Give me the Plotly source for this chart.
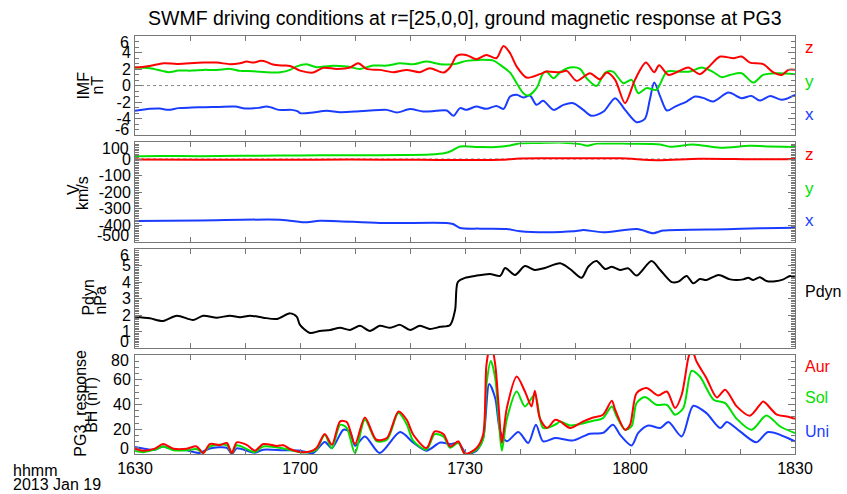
import plotly.graph_objects as go
from plotly.subplots import make_subplots

# ---------------- data (time in minutes after 16:30 UT, 2013 Jan 19) ----------------
x_tick_vals = [0, 10, 20, 30, 40, 50, 60, 70, 80, 90, 100, 110, 120]
x_tick_text = ["1630", "", "", "1700", "", "", "1730", "", "", "1800", "", "", "1830"]

# IMF (nT)
imf_z_t = [0, 2.7, 5.2, 7.6, 10, 12.4, 14.9, 17.3, 19.1, 20.3, 21.5, 22.9, 23.9, 25.1, 26.9, 28.2, 30, 32.4,
           34.2, 36.7, 39.1, 40.6, 42.1, 44.5, 47, 49.4, 51.8, 53.6, 56.1, 57.3, 58.5, 60.2, 62, 63.9, 65.7, 67,
           68.2, 69.4, 71.2, 73.6, 74.8, 77.3, 78.5, 80.3, 82.7, 84.5, 85.8, 87.3, 89.1, 90.9, 92.9, 94.4, 95.3,
           97, 99.1, 100.6, 102.7, 104.2, 106.4, 108.8, 110.3, 111.8, 114.2, 116, 117.6, 118.8, 120]
imf_z = [2.18, 2.38, 2.71, 2.62, 2.71, 2.78, 2.78, 2.59, 2.71, 2.9, 2.78, 2.99, 2.87, 2.54, 2.42, 2.38, 1.81, 1.57,
         2.14, 2.02, 2.18, 2.71, 2.02, 1.9, 1.62, 1.9, 1.62, 2.1, 1.57, 2.22, 3.59, 3.71, 3.19, 3.71, 3.31, 4.8,
         3.92, 2.3, 0.97, 1.38, 1.69, 1.6, 1.78, 0.57, 1.5, 0.77, 1.57, 0.69, -2.13, 0.69, 2.78, 1.62, 2.47,
         1.29, 1.81, 2.18, 1.38, 2.18, 3.51, 3.31, 3.51, 2.78, 2.59, 1.62, 1.29, 1.9, 1.9]

imf_y_t = [0, 2.7, 4.9, 6.1, 7.9, 10.3, 12.4, 14.9, 17.3, 19.1, 21.5, 23.9, 26.4, 28.2, 29.3, 31.2, 33, 35.5,
           38.5, 40.9, 43.3, 45.8, 48.2, 50.6, 53, 55.5, 57.9, 60.3, 62.7, 65.2, 66.4, 68.2, 69.4, 70.6, 71.5,
           73, 74.2, 74.8, 76.1, 77.3, 79.1, 80.9, 82.1, 83.9, 85.5, 86.9, 88.8, 90.3, 91.5, 93, 94.8, 96.7,
           98.5, 100.9, 103, 105, 106.7, 108.2, 110.3, 112.4, 114.2, 116.7, 120]
imf_y = [2.18, 2.1, 1.78, 1.62, 1.81, 1.81, 1.9, 1.9, 2.02, 1.78, 1.74, 1.62, 1.62, 1.9, 2.3, 2.59, 2.22, 2.38,
         2.3, 2.02, 2.42, 2.42, 2.71, 2.59, 2.9, 2.59, 2.59, 2.99, 3.11, 3.02, 2.5, 1.57, 0.29, -0.92, -1.21,
         -0.31, 1.5, 1.69, 0.89, 1.62, 2.18, 2.02, 0.89, -0.04, 1.57, 1.69, 0.29, 0.69, -0.92, -0.31, -0.52, 1.69,
         1.69, 1.69, 2.18, 1.69, 1.02, 1.29, 1.5, 0.36, 1.29, 1.5, 1.38]

imf_x_t = [0, 2.7, 4.5, 6.1, 7.9, 10.3, 12.7, 15.2, 18.2, 20, 22.4, 23.9, 24.8, 26.1, 28.5, 29.7, 30, 32.4,
           34.8, 37.3, 40.3, 42.7, 45.8, 47.6, 50, 52.4, 54.8, 56.7, 57.9, 59.1, 60.3, 62, 63.9, 65.7, 67, 68.2,
           69.4, 70.6, 71.8, 73, 74.2, 76.1, 77.9, 79.7, 81.5, 83, 85.2, 87.3, 89.1, 91.2, 92.7, 93.6, 94.4,
           95.5, 96.7, 98.2, 100.3, 101.8, 103.3, 105.1, 107.9, 110.3, 112.1, 113.6, 115.5, 117.6, 120]
imf_x = [-3.06, -2.82, -2.78, -2.94, -2.73, -2.66, -2.61, -2.58, -2.54, -2.78, -2.7, -2.54, -2.66, -2.94, -2.94,
         -3.14, -3.34, -3.26, -3.06, -3.22, -3.14, -3.02, -2.94, -3.26, -2.85, -3.14, -3.06, -3.02, -3.66, -2.73,
         -2.94, -2.54, -2.82, -2.46, -2.82, -1.33, -1.12, -1.45, -1.21, -2.33, -1.85, -2.94, -2.33, -2.13, -2.94,
         -3.66, -3.14, -1.52, -2.94, -4.43, -4.03, -1.73, 0.36, -1.33, -3.02, -2.54, -1.93, -1.33, -1.49, -1.93,
         -0.85, -1.52, -1.25, -1.81, -1.25, -1.73, -1.12]

# Solar wind velocity (km/s)
v_y_t = [0, 4.5, 11.8, 19.1, 26.4, 33.6, 40.9, 48.2, 53.6, 56.4, 57.6, 59.1, 62.4, 65.6, 68.2, 70, 73.6, 77.8,
         80.9, 82.2, 84, 90, 95.5, 97.3, 101.5, 106.4, 111.8, 115.5, 120]
v_y = [16, 18, 17, 19, 21, 22, 22, 24, 27, 36, 50, 75, 73, 72, 82, 95, 97, 99, 90, 80, 93, 92, 88, 74, 88, 68,
       80, 76, 72]
v_z_t = [0, 11.8, 26.4, 39.1, 51.8, 59.1, 66.4, 70, 77.3, 88.2, 94.9, 102.7, 113.6, 120]
v_z = [-3, -5, -5, -3, -5, -6, -5, 3, 4, 4, -7, 2, -2, 0]
v_x_t = [0, 11.8, 26.4, 31.3, 33.6, 44.5, 56.7, 57.8, 59.1, 62.7, 67.6, 70, 76, 80.9, 81.5, 85.1, 91.3, 94.2,
         96, 107.6, 113.6, 120]
v_x = [-375, -372, -367, -383, -373, -387, -387, -393, -417, -421, -423, -437, -443, -433, -429, -443, -423,
       -449, -433, -425, -419, -415]

# Dynamic pressure (nPa)
pdyn_t = [0, 2.7, 5.1, 7.6, 10.6, 12.4, 14.9, 17.3, 19.1, 20.9, 23.3, 25.8, 28.2, 29.4, 30, 31.8, 33.6, 35.5,
          37.3, 39.1, 40.9, 42.7, 44.5, 46.4, 48.2, 50, 51.8, 53.6, 55.5, 57.3, 58.2, 58.7, 60, 61.8, 64.5, 66.4,
          67.3, 69.1, 70.9, 72.7, 74.5, 77.3, 79.1, 81.2, 82.4, 83.9, 85.5, 86.7, 88.2, 89.7, 91.2, 93.9, 95.5,
          97.6, 98.8, 100.3, 101.5, 102.7, 103.9, 106.1, 108.2, 110.6, 111.5, 112.4, 113.6, 114.8, 116.4, 117.9,
          119.1, 120]
pdyn = [1.9, 1.8, 1.64, 1.96, 1.7, 1.96, 1.84, 1.96, 1.86, 1.96, 1.84, 1.76, 2.1, 1.9, 1.4, 0.91, 1.03, 1.09,
        1.22, 1.09, 1.34, 1.03, 1.34, 1.22, 1.4, 1.09, 1.34, 1.15, 1.28, 1.4, 2.31, 4.01, 4.26, 4.38, 4.5, 4.38,
        4.86, 4.44, 4.98, 4.74, 4.86, 5.15, 4.8, 4.27, 4.94, 5.29, 4.8, 4.94, 4.74, 4.84, 4.4, 5.29, 4.74, 4.0,
        4.03, 4.38, 3.93, 4.19, 4.13, 4.44, 4.17, 4.17, 4.27, 4.13, 4.3, 4.07, 4.05, 4.17, 4.38, 4.3]

# PG3 ground response BH (nT)
bh_aur_t = [0, 1.5, 3.6, 5.1, 7, 9.4, 11.2, 12.4, 13.6, 15.5, 16.7, 17.6, 18.5, 20.3, 21.8, 23.3, 25.8, 27,
            28.2, 30, 31.8, 33, 34.5, 35.8, 37.3, 38.5, 40, 41.8, 43.9, 45.8, 47.9, 49.4, 50.6, 53, 54.5, 56.1,
            57.3, 58.8, 60, 62.1, 63.3, 63.9, 64.7, 65.5, 66.1, 66.7, 67.6, 69.4, 70.9, 72.1, 72.7, 73.6, 74.9,
            76.4, 77.3, 79.1, 81.5, 83.3, 85.1, 86.7, 87.3, 89.1, 90, 91.2, 93, 95.1, 96.7, 98.2, 99.4, 100.6,
            101.2, 102.1, 103.9, 105.8, 107.3, 109.4, 111.8, 114.2, 114.8, 116.7, 118.5, 120]
bh_aur = [4.3, 2.7, 4.3, 8, 4.3, 4.3, 6.1, 0.8, 8, 7.3, 8.9, 0.8, 9.4, 7.3, 2.7, 8, 6.5, 7, 4, 1.6, 2, 4.8,
          16.1, 7.5, 26.3, 25.8, 8, 29.5, 11.5, 12.9, 34.3, 27.6, 15.5, 4.8, 18.2, 16, 6.1, 10.2, 0, 4.8, 15.7,
          72, 90, 72, 39.7, 8.9, 37, 62.5, 50.4, 38.4, 51, 29, 21, 27.6, 26.3, 21, 26.3, 29.5, 31.7, 43, 35.7,
          19.6, 23.6, 49.2, 53.2, 47.2, 50.4, 37.1, 47.8, 77.4, 85, 74.6, 61.2, 45.6, 51.8, 38.4, 30.9, 42.4,
          40.5, 31.7, 30.3, 28.4]

bh_sol_t = [0, 1.5, 3.6, 5.1, 7, 9.4, 11.2, 12.4, 13.6, 16.7, 17.6, 18.5, 21.8, 23.3, 27, 30, 31.8, 33, 34.5,
            35.8, 37.3, 38.5, 40, 41.8, 43.9, 45.8, 47.9, 49.4, 50.6, 53, 54.5, 56.1, 57.3, 58.8, 60, 62.1, 63.3,
            63.9, 64.7, 65.5, 66.1, 66.7, 67.6, 69.4, 70.9, 72.7, 74.2, 76.6, 77.3, 79.1, 83.3, 85.1, 86.7, 87.6,
            89.1, 90.3, 91.2, 92.7, 94.8, 96.7, 98.2, 99.7, 101.2, 102.7, 105.2, 107.3, 109.4, 112.1, 114.8,
            117.3, 120]
bh_sol = [2.7, 1.5, 3.5, 6.1, 3, 3, 4, 0.8, 6.1, 7, 0.5, 7, 1.5, 6.1, 4.5, 1.5, 1.5, 3.5, 15.5, 4.5, 23.6, 21,
          0.8, 27.6, 10.5, 11.5, 33, 24, 10.5, 3.5, 16, 14, 5, 9, 0, 3.5, 12, 56, 75, 61, 30, 2.7, 28, 50.4, 38.4,
          47.8, 21, 24.2, 26.3, 23, 26.8, 29, 38.4, 30, 19.6, 22.5, 41.1, 45.9, 39.7, 39.7, 31.7, 37.1, 67.1,
          62.5, 43.8, 41.1, 28.4, 19.6, 31.1, 22.2, 16.9]

bh_uni_t = [0, 2, 3.6, 5.1, 7, 9.4, 11.7, 13.6, 16.7, 17.6, 18.5, 21.8, 23.3, 27, 30, 32.4, 34.5, 35.8, 37.9,
            39.1, 40, 41.8, 44.5, 48.2, 50.6, 53, 55.5, 57.3, 58.8, 60.3, 62.1, 63.3, 64.4, 65.5, 66.4, 67.6,
            69.7, 71.5, 72.9, 74.2, 76.4, 79.7, 82.7, 85.1, 86.9, 88.2, 90.3, 91.5, 93.3, 95.5, 97, 99.4, 101.5,
            103.9, 106.4, 107.6, 110, 113, 115.1, 120]
bh_uni = [5.6, 4, 3.5, 6.1, 3.5, 3, 0.8, 4.5, 5, 0, 4.5, 1, 3.5, 3, 2.7, 0.8, 9.7, 4.8, 19.6, 17.9, 6.7, 14.2,
          0.8, 17.7, 9.2, 2.7, 9.2, 8, 9, 0, 2.7, 12.7, 56.4, 45, 18.2, 10.2, 17.7, 8.9, 23.6, 10.2, 12.9, 11,
          16.4, 17, 23.6, 15.5, 6.9, 17, 23, 21, 25.8, 14.2, 38.9, 33, 21, 25.8, 18.2, 9.4, 17.7, 10.2]

# axis ticks
imf_ticks = [6, 4, 2, 0, -2, -4, -6]
v_ticks = [100, 0, -100, -200, -300, -400, -500]
pdyn_ticks = [6, 5, 4, 3, 2, 1, 0]
bh_ticks = [80, 60, 40, 20, 0]

RED, GREEN, BLUE = "#ff0000", "#00e000", "#1a3cff"
AX = "#777777"
FONT = "Liberation Sans, Arial, Helvetica, sans-serif"

fig = make_subplots(rows=4, cols=1, shared_xaxes=True)

def add(t, v, color, row):
    fig.add_trace(go.Scatter(x=t, y=v, mode="lines", line=dict(color=color, width=2, shape="spline", smoothing=0.8),
                             showlegend=False, hoverinfo="skip"), row=row, col=1)

add(imf_x_t, imf_x, BLUE, 1)
add(imf_y_t, imf_y, GREEN, 1)
add(imf_z_t, imf_z, RED, 1)
add(v_x_t, v_x, BLUE, 2)
add(v_y_t, v_y, GREEN, 2)
add(v_z_t, v_z, RED, 2)
add(pdyn_t, pdyn, "#000000", 3)
add(bh_uni_t, bh_uni, BLUE, 4)
add(bh_sol_t, bh_sol, GREEN, 4)
add(bh_aur_t, bh_aur, RED, 4)

domains = [[0.7628, 1.0], [0.5079, 0.7453], [0.2539, 0.4897], [0.0, 0.2372]]
ranges = [[-6, 6], [-500, 100], [0, 6], [0, 80]]
ticks = [imf_ticks, v_ticks, pdyn_ticks, bh_ticks]
minors = [2 / 3, 10, 0.1, 5]
yrefs = ["y", "y2", "y3", "y4"]

ann = []
TICKSIZE = 16
for i in range(4):
    xa = "xaxis" if i == 0 else f"xaxis{i+1}"
    ya = "yaxis" if i == 0 else f"yaxis{i+1}"
    fig.layout[xa].update(range=[0, 120], showline=True, linecolor=AX, linewidth=1, mirror="ticks",
                          ticks="inside", ticklen=5, tickcolor=AX, tickmode="array", tickvals=x_tick_vals,
                          ticktext=x_tick_text, showticklabels=(i == 3), showgrid=False, zeroline=False,
                          automargin=False, tickfont=dict(size=16, color="black"))
    tv = ticks[i]
    # end labels are drawn as annotations nudged inward (as in the original), the rest by the axis
    tt = ["" if (t == max(tv) or t == min(tv)) else str(t) for t in tv]
    fig.layout[ya].update(domain=domains[i], range=ranges[i], showline=True, linecolor=AX, linewidth=1,
                          mirror="ticks", ticks="inside", ticklen=7, tickcolor=AX, tickmode="array",
                          tickvals=tv, ticktext=tt, showgrid=False, automargin=False,
                          zeroline=False, tickfont=dict(size=TICKSIZE, color="black"),
                          minor=dict(ticks="inside", ticklen=4, tickcolor=AX, dtick=minors[i],
                                     tick0=ranges[i][0], showgrid=False))
    for t, shift in [(max(tv), -6), (min(tv), 6)]:
        ann.append(dict(text=str(t), xref="paper", x=0, xanchor="right", xshift=-4, yref=yrefs[i], y=t,
                        yanchor="middle", yshift=shift, showarrow=False,
                        font=dict(size=TICKSIZE, color="black")))

# dotted zero lines
for yr, xr in [("y", "x domain"), ("y2", "x2 domain")]:
    fig.add_shape(type="line", xref=xr, yref=yr, x0=0, x1=1, y0=0, y1=0,
                  line=dict(color="#888888", width=1, dash="dot"), layer="below")

def label(text, color, yref, yfrac, size=17):
    ann.append(dict(text=text, xref="paper", x=1, xanchor="left", xshift=8, yref=yref, y=yfrac,
                    yanchor="middle", showarrow=False, font=dict(size=size, color=color)))

label("z", RED, "y domain", 0.883)
label("y", GREEN, "y domain", 0.537)
label("x", BLUE, "y domain", 0.211)
label("z", RED, "y2 domain", 0.879)
label("y", GREEN, "y2 domain", 0.54)
label("x", BLUE, "y2 domain", 0.211)
label("Pdyn", "black", "y3 domain", 0.57, 16)
label("Aur", RED, "y4 domain", 0.882, 16)
label("Sol", GREEN, "y4 domain", 0.567, 16)
label("Uni", BLUE, "y4 domain", 0.225, 16)

def ytitle(text, xpx, yref, yfrac):
    ann.append(dict(text=text, xref="paper", x=0, xanchor="center", xshift=xpx - 135, yref=yref, y=yfrac,
                    yanchor="middle", textangle=-90, showarrow=False, font=dict(size=16, color="black")))

ytitle("IMF", 84, "y domain", 0.5)
ytitle("nT", 98, "y domain", 0.5)
ytitle("V", 73, "y2 domain", 0.52)
ytitle("km/s", 82, "y2 domain", 0.49)
ytitle("Pdyn", 89, "y3 domain", 0.51)
ytitle("nPa", 101, "y3 domain", 0.48)
ytitle("PG3_response", 81, "y4 domain", 0.507)
ytitle("BH (nT)", 92, "y4 domain", 0.496)

ann.append(dict(text="SWMF driving conditions at r=[25,0,0], ground magnetic response at PG3", xref="paper",
                x=0.5, xanchor="center", yref="paper", y=1, yshift=18, yanchor="middle", showarrow=False,
                font=dict(size=19.5, color="black")))
ann.append(dict(text="hhmm", xref="paper", x=0, xanchor="left", xshift=-124, yref="paper", y=0, yshift=-16,
                yanchor="middle", showarrow=False, font=dict(size=16, color="black")))
ann.append(dict(text="2013 Jan 19", xref="paper", x=0, xanchor="left", xshift=-124, yref="paper", y=0,
                yshift=-30, yanchor="middle", showarrow=False, font=dict(size=16, color="black")))

fig.update_layout(width=847, height=494, margin=dict(l=135, r=52, t=36, b=40), plot_bgcolor="white",
                  paper_bgcolor="white", font=dict(family=FONT, color="black"), annotations=ann,
                  showlegend=False)

fig.write_html("out.html", config={"displayModeBar": False},
               post_script="document.body.style.margin='0';")
